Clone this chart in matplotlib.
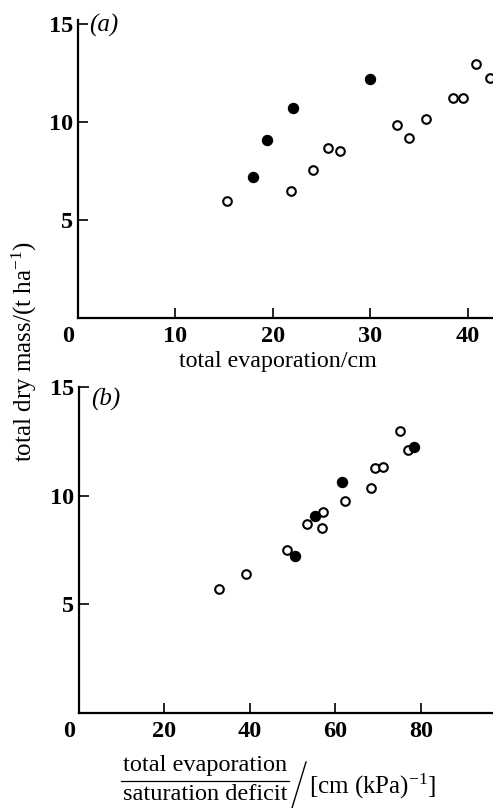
import matplotlib
matplotlib.use("Agg")
import matplotlib.pyplot as plt
import matplotlib.transforms as mtransforms
from matplotlib.lines import Line2D

# ---- data: panel (a) total evaporation (cm) vs total dry mass (t/ha)
a_open_x = [15.3, 21.9, 24.1, 25.7, 26.9, 32.7, 34.0, 35.7, 38.5, 39.5, 40.9, 42.3]
a_open_y = [5.97, 6.50, 7.53, 8.66, 8.52, 9.83, 9.17, 10.17, 11.24, 11.24, 12.94, 12.24]
a_fill_x = [18.0, 19.4, 22.1, 30.0]
a_fill_y = [7.21, 9.10, 10.70, 12.21]

# ---- data: panel (b) evaporation / saturation deficit vs total dry mass
b_open_x = [32.7, 39.2, 48.7, 53.3, 56.8, 57.1, 62.2, 68.4, 69.4, 71.1, 75.2, 77.1]
b_open_y = [5.72, 6.38, 7.49, 8.71, 8.50, 9.24, 9.77, 10.34, 11.27, 11.32, 12.99, 12.10]
b_fill_x = [50.6, 55.2, 61.5, 78.5]
b_fill_y = [7.21, 9.08, 10.64, 12.23]

a_xticks = [0, 10, 20, 30, 40]
b_xticks = [0, 20, 40, 60, 80]
yticks = [5, 10, 15]

W, H = 493, 808
fig = plt.figure(figsize=(W / 100, H / 100), dpi=100)

SERIF = ["Liberation Serif", "DejaVu Serif"]
plt.rcParams["font.family"] = SERIF
plt.rcParams["mathtext.fontset"] = "custom"
plt.rcParams["mathtext.rm"] = "Liberation Serif"
plt.rcParams["mathtext.it"] = "Liberation Serif:italic"

TICK_FS = 17.5
LAB_FS = 18


def style(ax, xticks, xmax, ymax):
    for s in ["top", "right"]:
        ax.spines[s].set_visible(False)
    for s in ["left", "bottom"]:
        ax.spines[s].set_linewidth(1.6)
    ax.set_xlim(0, xmax)
    ax.set_ylim(0, ymax)
    ax.set_xticks(xticks)
    ax.set_xticklabels([str(t) for t in xticks])
    ax.set_yticks(yticks)
    ax.set_yticklabels([str(t) for t in yticks])
    ax.tick_params(direction="in", length=7, width=1.2, labelsize=TICK_FS)
    ax.tick_params(axis="x", pad=6)
    ax.tick_params(axis="y", pad=3.5)
    for lab in ax.get_xticklabels() + ax.get_yticklabels():
        lab.set_fontweight("bold")
        lab.set_family(SERIF)
    zero = ax.get_xticklabels()[0]
    zero.set_transform(zero.get_transform() +
                       mtransforms.ScaledTranslation(-0.10, 0, fig.dpi_scale_trans))


def px_axes(left, bottom, right, top):
    return fig.add_axes([left / W, 1 - bottom / H, (right - left) / W, (bottom - top) / H])


# ---- panel (a)
axa = px_axes(78, 318, 493, 20)
style(axa, a_xticks, 42.6, 15.2)
axa.plot(a_open_x, a_open_y, "o", ms=6.2, mfc="white", mec="black", mew=1.5, clip_on=False)
axa.plot(a_fill_x, a_fill_y, "o", ms=7.2, mfc="black", mec="black", clip_on=False)
fig.text(89 / W, 1 - 25 / H, "(a)", fontsize=LAB_FS, style="italic", va="center", ha="left")
fig.text(278 / W, 1 - 362 / H, "total evaporation/cm", fontsize=17.3, ha="center", va="center")

# ---- panel (b)
axb = px_axes(78.8, 713, 493, 387)
style(axb, b_xticks, 96.9, 15)
axb.plot(b_open_x, b_open_y, "o", ms=6.2, mfc="white", mec="black", mew=1.5, clip_on=False)
axb.plot(b_fill_x, b_fill_y, "o", ms=7.2, mfc="black", mec="black", clip_on=False)
fig.text(91 / W, 1 - 399 / H, "(b)", fontsize=LAB_FS, style="italic", va="center", ha="left")

# ---- shared y label
fig.text(24 / W, 1 - 351 / H, r"total dry mass/(t ha$^{-1}$)", fontsize=LAB_FS,
         rotation=90, ha="center", va="center")

# ---- panel (b) x label: fraction / [cm (kPa)^-1]
fig.text(205 / W, 1 - 765 / H, "total evaporation", fontsize=17.5, ha="center", va="center")
fig.text(205 / W, 1 - 795 / H, "saturation deficit", fontsize=17.5, ha="center", va="center")
fig.add_artist(Line2D([121 / W, 289 / W], [1 - 781 / H, 1 - 781 / H],
                      transform=fig.transFigure, color="black", lw=0.9))
fig.add_artist(Line2D([292 / W, 306 / W], [1 - 808 / H, 1 - 762 / H],
                      transform=fig.transFigure, color="black", lw=1.0))
fig.text(309 / W, 1 - 786 / H, r"[cm (kPa)$^{-1}$]", fontsize=LAB_FS, ha="left", va="center")

fig.savefig("out.png", dpi=100)
